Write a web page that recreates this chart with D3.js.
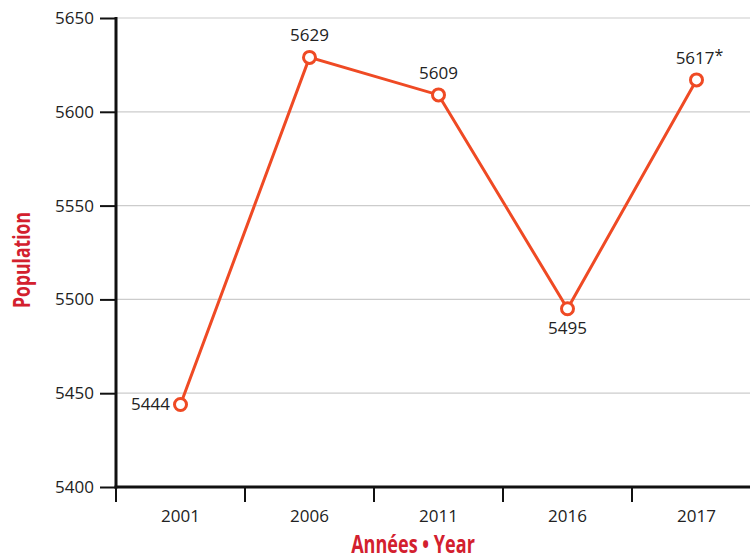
<!DOCTYPE html>
<html>
<head>
<meta charset="utf-8">
<script src="https://cdn.jsdelivr.net/npm/d3@7"></script>
<style>
  body { margin: 0; background: #fff; }
  text { font-family: "Open Sans", sans-serif; }
</style>
</head>
<body>
<script>
let years = ['2001', '2006', '2011', '2016', '2017']
let population = [5444, 5629, 5609, 5495, 5617]
let pointLabels = ['5444', '5629', '5609', '5495', '5617*']
let yTicks = [5400, 5450, 5500, 5550, 5600, 5650]

let margin = { top: 18, bottom: 72, left: 116, right: 0 }
let width = 750, height = 559

let x = d3.scaleBand().domain(years).range([margin.left, margin.left + 129 * 5])
let y = d3.scaleLinear().domain([5400, 5650]).range([height - margin.bottom, margin.top])

let svg = d3.select('body').append('svg')
  .attr('width', width).attr('height', height)

// gridlines
svg.append('g')
  .selectAll('line')
  .data(yTicks.slice(1))
  .enter().append('line')
  .attr('x1', margin.left).attr('x2', width)
  .attr('y1', d => y(d)).attr('y2', d => y(d))
  .attr('stroke', '#cccccc').attr('stroke-width', 1.2)

// y axis
let yAxis = svg.append('g')
  .attr('transform', 'translate(' + margin.left + ',0)')
  .call(d3.axisLeft(y).tickValues(yTicks).tickSize(16).tickPadding(6).tickFormat(d3.format('d')))
yAxis.select('.domain').remove()
yAxis.selectAll('.tick line').attr('stroke', '#111').attr('stroke-width', 2)
yAxis.selectAll('.tick text').attr('font-size', 17).attr('fill', '#222')
  .style('font-family', '"Open Sans", sans-serif')

// x axis ticks at band edges
let xAxis = svg.append('g')
  .attr('transform', 'translate(0,' + y(5400) + ')')
xAxis.selectAll('line')
  .data(years)
  .enter().append('line')
  .attr('x1', d => x(d)).attr('x2', d => x(d))
  .attr('y1', 0).attr('y2', 15)
  .attr('stroke', '#111').attr('stroke-width', 2)
xAxis.selectAll('text')
  .data(years)
  .enter().append('text')
  .attr('x', d => x(d) + x.bandwidth() / 2)
  .attr('y', 35)
  .attr('text-anchor', 'middle')
  .attr('font-size', 17).attr('fill', '#222')
  .text(d => d)

// axis lines
svg.append('line')
  .attr('x1', margin.left).attr('x2', margin.left)
  .attr('y1', y(5650) - 1).attr('y2', y(5400) + 1.5)
  .attr('stroke', '#111').attr('stroke-width', 3)
svg.append('line')
  .attr('x1', margin.left - 1.5).attr('x2', width)
  .attr('y1', y(5400)).attr('y2', y(5400))
  .attr('stroke', '#111').attr('stroke-width', 3)

let data = years.map((d, i) => ({ year: d, value: population[i], label: pointLabels[i] }))
let cx = d => x(d.year) + x.bandwidth() / 2

let line = d3.line().x(cx).y(d => y(d.value))
svg.append('path')
  .datum(data)
  .attr('d', line)
  .attr('fill', 'none')
  .attr('stroke', '#ef4a24')
  .attr('stroke-width', 3)

svg.selectAll('circle')
  .data(data)
  .enter().append('circle')
  .attr('cx', cx).attr('cy', d => y(d.value))
  .attr('r', 6)
  .attr('fill', '#fff')
  .attr('stroke', '#ef4a24')
  .attr('stroke-width', 3)

// value labels
let offsets = [[-30, 6, 'middle'], [0, -16, 'middle'], [0, -16, 'middle'], [0, 25, 'middle'], [3, -16, 'middle']]
svg.selectAll('.val')
  .data(data)
  .enter().append('text')
  .attr('class', 'val')
  .attr('x', (d, i) => cx(d) + offsets[i][0])
  .attr('y', (d, i) => y(d.value) + offsets[i][1])
  .attr('text-anchor', (d, i) => offsets[i][2])
  .attr('font-size', 17).attr('fill', '#222')
  .each(function (d) {
    let t = d3.select(this)
    if (d.label.endsWith('*')) {
      t.append('tspan').text(d.label.slice(0, -1))
      t.append('tspan').attr('dy', -3).attr('font-size', 16).text('*')
    } else {
      t.text(d.label)
    }
  })

// axis titles (condensed look via horizontal squeeze)
svg.append('text')
  .attr('transform', 'translate(30,260) rotate(-90) scale(0.88,1.15)')
  .attr('text-anchor', 'middle')
  .attr('font-size', 20).attr('font-weight', 'bold')
  .attr('fill', '#d3202e')
  .text('Population')

svg.append('text')
  .attr('transform', 'translate(413,553) scale(0.86,1.15)')
  .attr('text-anchor', 'middle')
  .attr('font-size', 21).attr('font-weight', 'bold')
  .attr('fill', '#d3202e')
  .text('Années • Year')
</script>
</body>
</html>
